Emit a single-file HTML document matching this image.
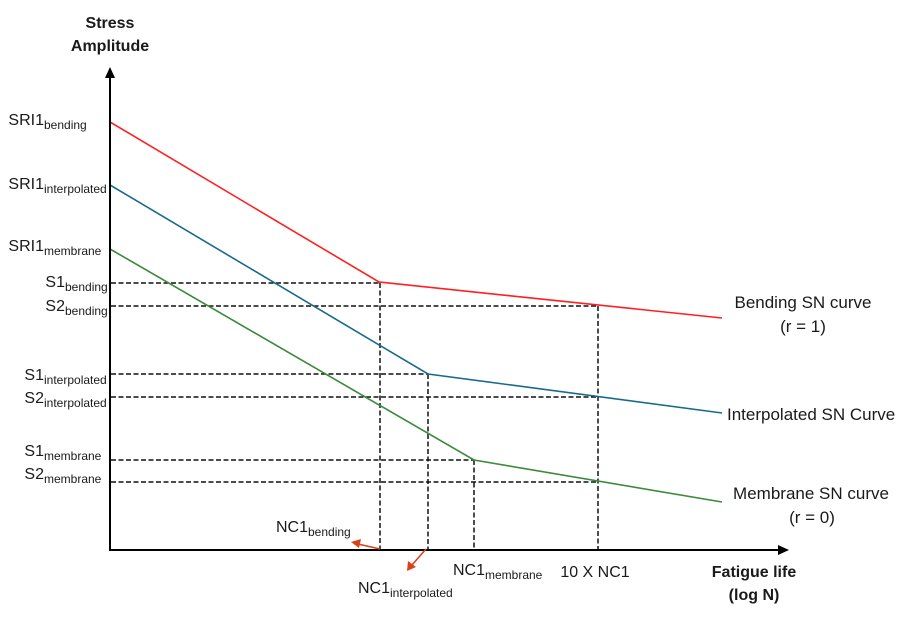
<!DOCTYPE html>
<html>
<head>
<meta charset="utf-8">
<style>
  html,body{margin:0;padding:0;background:#fff;}
  svg{display:block;}
  text{font-family:"Liberation Sans",Arial,sans-serif;fill:#1a1a1a;}
  .b{font-weight:bold;font-size:16px;}
  .m{font-size:16px;}
  .s{font-size:12px;}
  .r{font-size:17px;}
</style>
</head>
<body>
<svg width="906" height="621" viewBox="0 0 906 621" xmlns="http://www.w3.org/2000/svg">
  <rect width="906" height="621" fill="#fff"/>

  <!-- dashed guide lines -->
  <g stroke="#111" stroke-width="1.5" stroke-dasharray="5,2.5" fill="none">
    <line x1="111" y1="283" x2="380" y2="283"/>
    <line x1="111" y1="306" x2="598" y2="306"/>
    <line x1="111" y1="374" x2="428" y2="374"/>
    <line x1="111" y1="397" x2="598" y2="397"/>
    <line x1="111" y1="460" x2="474" y2="460"/>
    <line x1="111" y1="482" x2="598" y2="482"/>
    <line x1="380" y1="283" x2="380" y2="549"/>
    <line x1="428" y1="374" x2="428" y2="549"/>
    <line x1="474" y1="460" x2="474" y2="549"/>
    <line x1="598" y1="306" x2="598" y2="549"/>
  </g>

  <!-- SN curves -->
  <polyline points="110,122 379,282 722,318" fill="none" stroke="#ff1f1f" stroke-width="1.6"/>
  <polyline points="110,185 428,374 722,413" fill="none" stroke="#1b6a8c" stroke-width="1.6"/>
  <polyline points="110,249 474,460 722,502" fill="none" stroke="#3c8a3c" stroke-width="1.6"/>

  <!-- axes -->
  <line x1="110" y1="551" x2="110" y2="76" stroke="#000" stroke-width="2"/>
  <polygon points="110,67 105,78 115,78" fill="#000"/>
  <line x1="109" y1="550" x2="780" y2="550" stroke="#000" stroke-width="2"/>
  <polygon points="789,550 778,545 778,555" fill="#000"/>

  <!-- red arrows -->
  <line x1="380" y1="549" x2="358" y2="544" stroke="#d8431b" stroke-width="1.6"/>
  <polygon points="351,542 361,539 359,548" fill="#d8431b"/>
  <line x1="426" y1="549" x2="412" y2="565" stroke="#d8431b" stroke-width="1.6"/>
  <polygon points="407,571 408,561 416,567" fill="#d8431b"/>

  <!-- axis titles -->
  <text class="b" x="110" y="28" text-anchor="middle">Stress</text>
  <text class="b" x="110" y="51" text-anchor="middle">Amplitude</text>
  <text class="b" x="754" y="577" text-anchor="middle">Fatigue life</text>
  <text class="b" x="754" y="600" text-anchor="middle">(log N)</text>

  <!-- left labels -->
  <text class="m" x="44" y="125" text-anchor="end">SRI1</text>
  <text class="s" x="44" y="129">bending</text>
  <text class="m" x="44" y="189" text-anchor="end">SRI1</text>
  <text class="s" x="44" y="193">interpolated</text>
  <text class="m" x="44" y="251" text-anchor="end">SRI1</text>
  <text class="s" x="44" y="255">membrane</text>

  <text class="m" x="65" y="287" text-anchor="end">S1</text>
  <text class="s" x="65" y="291">bending</text>
  <text class="m" x="65" y="311" text-anchor="end">S2</text>
  <text class="s" x="65" y="315">bending</text>

  <text class="m" x="44" y="380" text-anchor="end">S1</text>
  <text class="s" x="44" y="384">interpolated</text>
  <text class="m" x="44" y="403" text-anchor="end">S2</text>
  <text class="s" x="44" y="407">interpolated</text>

  <text class="m" x="44" y="456" text-anchor="end">S1</text>
  <text class="s" x="44" y="460">membrane</text>
  <text class="m" x="44" y="479" text-anchor="end">S2</text>
  <text class="s" x="44" y="483">membrane</text>

  <!-- bottom labels -->
  <text class="m" x="308" y="532" text-anchor="end">NC1</text>
  <text class="s" x="308" y="536">bending</text>
  <text class="m" x="390" y="593" text-anchor="end">NC1</text>
  <text class="s" x="390" y="597">interpolated</text>
  <text class="m" x="485" y="575" text-anchor="end">NC1</text>
  <text class="s" x="485" y="579">membrane</text>
  <text class="m" x="595" y="577" text-anchor="middle">10 X NC1</text>

  <!-- curve labels -->
  <text class="r" x="803" y="308" text-anchor="middle">Bending SN curve</text>
  <text class="r" x="803" y="332" text-anchor="middle">(r = 1)</text>
  <text class="r" x="727" y="420">Interpolated SN Curve</text>
  <text class="r" x="811" y="499" text-anchor="middle">Membrane SN curve</text>
  <text class="r" x="812" y="523" text-anchor="middle">(r = 0)</text>
</svg>
</body>
</html>
